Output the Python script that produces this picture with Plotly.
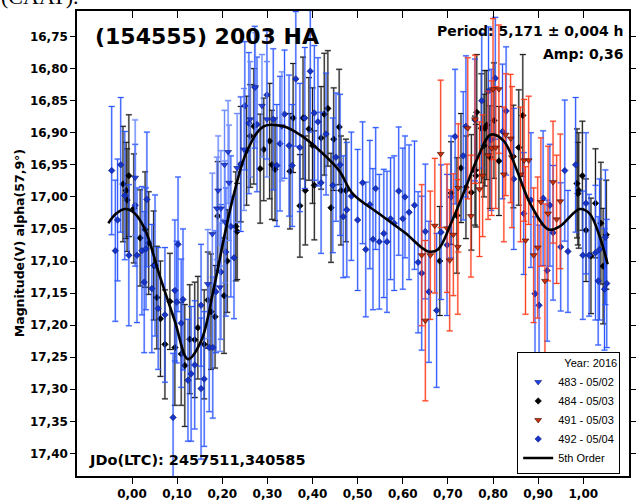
import plotly.graph_objects as go

# ---------------- data (phase, magnitude, error) ----------------
obs_483 = [
    (0.007, 16.970, 0.090), (0.168, 17.136, 0.085), (0.178, 17.058, 0.095), (0.188, 17.018, 0.080),
    (0.191, 16.990, 0.085), (0.195, 17.141, 0.100), (0.197, 17.018, 0.090), (0.205, 16.950, 0.085),
    (0.206, 17.039, 0.095), (0.213, 16.930, 0.080), (0.215, 16.978, 0.090), (0.233, 16.955, 0.085),
    (0.248, 16.926, 0.095), (0.262, 16.879, 0.090), (0.273, 16.829, 0.085), (0.288, 16.858, 0.080),
    (0.299, 16.879, 0.090), (0.332, 16.890, 0.085),
]

obs_484 = [
    (-0.020, 16.980, 0.090), (-0.013, 16.990, 0.075), (-0.007, 16.967, 0.095), (-0.011, 17.005, 0.080),
    (0.004, 17.018, 0.085), (0.018, 17.064, 0.075), (0.029, 17.051, 0.090), (0.037, 17.072, 0.080),
    (0.048, 17.107, 0.085), (0.055, 17.157, 0.080), (0.063, 17.190, 0.090), (0.073, 17.230, 0.085),
    (0.084, 17.163, 0.075), (0.095, 17.235, 0.090), (0.109, 17.245, 0.080), (0.117, 17.263, 0.095),
    (0.128, 17.222, 0.085), (0.139, 17.223, 0.090), (0.146, 17.204, 0.080), (0.160, 17.230, 0.085),
    (0.168, 17.161, 0.075), (0.175, 17.179, 0.090), (0.184, 17.187, 0.080), (0.190, 17.030, 0.085),
    (0.204, 17.154, 0.090), (0.211, 17.100, 0.080), (0.230, 17.046, 0.085), (0.233, 17.054, 0.075),
    (0.241, 16.949, 0.090), (0.254, 16.928, 0.085), (0.262, 16.905, 0.080), (0.270, 16.890, 0.090),
    (0.284, 16.956, 0.085), (0.292, 16.926, 0.080), (0.305, 16.913, 0.090), (0.310, 16.950, 0.085),
    (0.317, 16.957, 0.080), (0.350, 16.960, 0.090), (0.357, 16.877, 0.085), (0.372, 17.014, 0.080),
    (0.379, 16.877, 0.095), (0.384, 16.990, 0.085), (0.392, 16.894, 0.080), (0.400, 16.920, 0.090),
    (0.404, 16.982, 0.085), (0.419, 16.908, 0.080), (0.426, 16.871, 0.095), (0.434, 16.862, 0.090),
    (0.441, 17.017, 0.085), (0.447, 16.910, 0.080), (0.459, 16.891, 0.090), (0.463, 16.990, 0.085),
    (0.474, 16.990, 0.080), (0.682, 17.100, 0.085), (0.707, 16.994, 0.080), (0.720, 17.029, 0.090),
    (0.729, 16.955, 0.085), (0.740, 16.985, 0.080), (0.752, 16.993, 0.090), (0.760, 16.959, 0.085),
    (0.762, 16.967, 0.080), (0.764, 16.868, 0.090), (0.774, 16.893, 0.085), (0.780, 16.920, 0.080),
    (0.782, 16.893, 0.090), (0.786, 16.888, 0.085), (0.793, 16.938, 0.080), (0.802, 16.881, 0.090),
    (0.813, 16.944, 0.085), (0.845, 16.937, 0.080), (0.857, 16.923, 0.090), (0.866, 16.873, 0.095),
    (0.986, 16.979, 0.085), (0.988, 16.995, 0.080), (0.990, 16.990, 0.090), (0.998, 16.967, 0.085),
    (1.006, 17.052, 0.080), (1.017, 17.092, 0.090), (1.027, 17.010, 0.085), (1.039, 17.041, 0.095),
    (1.044, 17.108, 0.090), (1.051, 17.059, 0.085),
]

obs_491 = [
    (0.642, 17.091, 0.110), (0.650, 17.193, 0.125), (0.661, 17.091, 0.100), (0.671, 17.045, 0.105),
    (0.684, 16.933, 0.115), (0.698, 17.049, 0.100), (0.704, 17.099, 0.110), (0.712, 17.059, 0.095),
    (0.722, 17.078, 0.105), (0.723, 16.986, 0.100), (0.744, 16.893, 0.110), (0.751, 17.030, 0.095),
    (0.760, 16.879, 0.100), (0.770, 16.988, 0.105), (0.777, 16.967, 0.095), (0.789, 16.935, 0.100),
    (0.797, 16.924, 0.105), (0.800, 16.832, 0.110), (0.806, 16.923, 0.095), (0.813, 16.832, 0.100),
    (0.824, 16.965, 0.105), (0.828, 16.903, 0.095), (0.839, 16.909, 0.100), (0.842, 16.938, 0.110),
    (0.861, 16.965, 0.105), (0.869, 16.943, 0.095), (0.872, 17.068, 0.115), (0.879, 16.943, 0.100),
    (0.890, 17.091, 0.105), (0.899, 17.079, 0.110), (0.906, 17.008, 0.100), (0.915, 17.131, 0.120),
    (0.922, 17.026, 0.105), (0.933, 16.977, 0.095), (0.941, 17.035, 0.100), (0.949, 17.007, 0.105),
]

obs_492 = [
    (-0.045, 16.959, 0.100), (-0.037, 17.084, 0.110), (-0.032, 17.036, 0.095), (-0.025, 16.950, 0.105),
    (-0.016, 16.998, 0.100), (-0.007, 17.091, 0.110), (0.007, 17.013, 0.095), (0.011, 17.091, 0.105),
    (0.022, 17.084, 0.100), (0.027, 17.133, 0.110), (0.031, 17.081, 0.095), (0.033, 17.004, 0.105),
    (0.044, 17.143, 0.100), (0.051, 17.107, 0.110), (0.058, 17.174, 0.095), (0.073, 17.184, 0.105),
    (0.091, 17.344, 0.100), (0.095, 17.146, 0.110), (0.099, 17.164, 0.095), (0.102, 17.074, 0.105),
    (0.109, 17.197, 0.100), (0.113, 17.160, 0.110), (0.124, 17.286, 0.095), (0.131, 17.276, 0.105),
    (0.139, 17.262, 0.100), (0.153, 17.299, 0.110), (0.153, 17.169, 0.095), (0.160, 17.284, 0.105),
    (0.171, 17.235, 0.100), (0.179, 17.235, 0.110), (0.186, 17.148, 0.095), (0.197, 17.117, 0.105),
    (0.208, 17.086, 0.100), (0.219, 17.046, 0.110), (0.226, 17.095, 0.095), (0.241, 16.949, 0.105),
    (0.250, 16.858, 0.100), (0.259, 16.885, 0.110), (0.272, 16.829, 0.095), (0.277, 16.887, 0.105),
    (0.299, 16.841, 0.100), (0.313, 16.879, 0.110), (0.321, 16.951, 0.095), (0.328, 16.917, 0.105),
    (0.338, 16.871, 0.100), (0.348, 16.920, 0.110), (0.355, 16.951, 0.095), (0.363, 16.816, 0.105),
    (0.372, 16.923, 0.100), (0.383, 16.877, 0.110), (0.395, 16.804, 0.095), (0.404, 16.869, 0.105),
    (0.412, 16.883, 0.100), (0.419, 16.978, 0.110), (0.430, 16.902, 0.095), (0.445, 16.982, 0.105),
    (0.452, 16.938, 0.100), (0.461, 16.950, 0.110), (0.468, 17.031, 0.095), (0.476, 17.020, 0.105),
    (0.486, 16.999, 0.100), (0.500, 17.036, 0.110), (0.511, 16.978, 0.095), (0.518, 17.082, 0.105),
    (0.527, 17.012, 0.100), (0.534, 17.066, 0.110), (0.540, 16.987, 0.095), (0.548, 17.070, 0.105),
    (0.558, 17.057, 0.100), (0.565, 17.070, 0.110), (0.573, 17.034, 0.095), (0.581, 17.041, 0.105),
    (0.591, 16.991, 0.100), (0.600, 17.034, 0.110), (0.605, 17.000, 0.095), (0.614, 17.024, 0.105),
    (0.626, 17.013, 0.100), (0.634, 17.102, 0.110), (0.642, 17.119, 0.120), (0.650, 17.054, 0.105),
    (0.658, 17.148, 0.110), (0.675, 17.177, 0.120), (0.685, 17.055, 0.105), (0.698, 17.075, 0.110),
    (0.707, 17.000, 0.095), (0.716, 16.906, 0.105), (0.734, 16.936, 0.100), (0.740, 16.890, 0.110),
    (0.760, 16.880, 0.095), (0.775, 16.850, 0.105), (0.790, 16.835, 0.100), (0.796, 16.911, 0.110),
    (0.805, 16.815, 0.095), (0.821, 16.898, 0.105), (0.829, 16.866, 0.100), (0.846, 16.972, 0.110),
    (0.868, 17.026, 0.095), (0.884, 17.005, 0.105), (0.893, 17.151, 0.120), (0.902, 17.169, 0.125),
    (0.911, 17.002, 0.105), (0.920, 17.115, 0.110), (0.926, 17.013, 0.095), (0.933, 17.056, 0.105),
    (0.950, 17.078, 0.100), (0.959, 16.959, 0.110), (0.966, 17.085, 0.095), (0.983, 16.950, 0.105),
    (0.999, 17.091, 0.100), (1.006, 17.010, 0.110), (1.013, 17.091, 0.095), (1.027, 17.087, 0.105),
    (1.033, 17.131, 0.100), (1.036, 17.082, 0.110), (1.047, 17.144, 0.095), (1.049, 17.063, 0.105),
    (1.052, 17.135, 0.100),
]

fit_phase = [-0.0525, -0.035, -0.015, 0.005, 0.029, 0.060, 0.095, 0.124, 0.153, 0.182, 0.205,
             0.226, 0.255, 0.292, 0.335, 0.372, 0.416, 0.459, 0.489, 0.547, 0.605, 0.656, 0.678,
             0.707, 0.737, 0.766, 0.795, 0.824, 0.853, 0.882, 0.923, 0.948, 0.992, 1.014, 1.036, 1.054]
fit_mag = [17.041, 17.026, 17.019, 17.025, 17.051, 17.120, 17.194, 17.253, 17.225, 17.140, 17.060,
           16.995, 16.928, 16.890, 16.890, 16.903, 16.928, 16.959, 16.995, 17.026, 17.056, 17.085, 17.082,
           17.041, 16.990, 16.939, 16.903, 16.913, 16.959, 17.010, 17.051, 17.046, 17.019, 17.026, 17.061, 17.105]

x_ticks = [0.0, 0.1, 0.2, 0.3, 0.4, 0.5, 0.6, 0.7, 0.8, 0.9, 1.0]
x_ticktext = ["0,00", "0,10", "0,20", "0,30", "0,40", "0,50", "0,60", "0,70", "0,80", "0,90", "1,00"]
y_ticks = [16.75, 16.80, 16.85, 16.90, 16.95, 17.00, 17.05, 17.10, 17.15, 17.20, 17.25, 17.30, 17.35, 17.40]
y_ticktext = ["16,75", "16,80", "16,85", "16,90", "16,95", "17,00", "17,05", "17,10",
              "17,15", "17,20", "17,25", "17,30", "17,35", "17,40"]

# ---------------- styles ----------------
series = [
    # name, data, symbol, size, fill, outline, core err color, halo err color, rank
    ("484 - 05/03", obs_484, "diamond", 5, "#000000", "#000000", "#1a1a1a", "rgba(140,140,140,0.5)", 2),
    ("492 - 05/04", obs_492, "diamond", 5, "#1634c8", "#0b1b7a", "#2a55ff", "rgba(140,165,255,0.5)", 4),
    ("491 - 05/03", obs_491, "triangle-down", 6, "#c8300c", "#3a0800", "#ff3a1a", "rgba(255,160,140,0.55)", 3),
    ("483 - 05/02", obs_483, "triangle-down", 6, "#1f3fe0", "#0b1b7a", "#6a88ff", "rgba(160,180,255,0.55)", 1),
]

FONT = "DejaVu Sans"
fig = go.Figure()

# halos of error bars
for name, obs, sym, size, fill, outl, core, halo, rank in series:
    xs = [o[0] for o in obs]
    ys = [o[1] for o in obs]
    es = [o[2] for o in obs]
    fig.add_trace(go.Scatter(
        x=xs, y=ys, mode="markers", showlegend=False, hoverinfo="skip",
        marker=dict(size=1, opacity=0),
        error_y=dict(type="data", array=es, visible=True, color=halo, thickness=2.2, width=3),
    ))

# cores + markers
for name, obs, sym, size, fill, outl, core, halo, rank in series:
    xs = [o[0] for o in obs]
    ys = [o[1] for o in obs]
    es = [o[2] for o in obs]
    fig.add_trace(go.Scatter(
        x=xs, y=ys, mode="markers", name=name, legendrank=rank,
        marker=dict(symbol=sym, size=size, color=fill, line=dict(color=outl, width=0.6)),
        error_y=dict(type="data", array=es, visible=True, color=core, thickness=1, width=3),
    ))

fig.add_trace(go.Scatter(
    x=fit_phase, y=fit_mag, mode="lines", name="5th Order", legendrank=5,
    line=dict(color="black", width=2.6, shape="spline", smoothing=1.0),
))

# dummy trace for the top axis (inside ticks)
fig.add_trace(go.Scatter(x=[], y=[], xaxis="x2", yaxis="y", showlegend=False, hoverinfo="skip"))

X_RANGE = [-0.1219, 1.1013]
Y_RANGE = [17.4353, 16.7101]

fig.update_layout(
    width=639, height=504,
    margin=dict(l=77, r=3, t=11, b=20),
    paper_bgcolor="white", plot_bgcolor="white",
    showlegend=True,
    xaxis=dict(
        range=X_RANGE, tickmode="array", tickvals=x_ticks, ticktext=x_ticktext,
        showgrid=False, zeroline=False, showline=True, linecolor="black", linewidth=1.5,
        mirror=True, ticks="outside", ticklen=6, tickcolor="black", tickwidth=1,
        tickfont=dict(family=FONT, size=12, color="black", weight="bold"),
    ),
    xaxis2=dict(
        range=X_RANGE, overlaying="x", side="top", matches="x", tickmode="array", tickvals=x_ticks,
        showticklabels=False, showgrid=False, zeroline=False, showline=False,
        ticks="inside", ticklen=7, tickcolor="black", tickwidth=1,
    ),
    yaxis=dict(
        range=Y_RANGE, tickmode="array", tickvals=y_ticks, ticktext=y_ticktext,
        showgrid=False, zeroline=False, showline=True, linecolor="black", linewidth=1.5,
        mirror="ticks", ticks="outside", ticklen=5, tickcolor="black", tickwidth=1,
        tickfont=dict(family=FONT, size=12, color="black", weight="bold"),
    ),
    legend=dict(
        x=0.984, y=0.004, xanchor="right", yanchor="bottom",
        bgcolor="white", bordercolor="black", borderwidth=1,
        font=dict(family="Arial", size=11, color="black"),
        title=dict(text="Year: 2016", side="top right", font=dict(family="Arial", size=11, color="black")),
        itemwidth=30, tracegroupgap=0,
    ),
    annotations=[
        dict(text="(154555) 2003 HA", xref="paper", yref="paper", x=0.0286, y=0.945,
             xanchor="left", yanchor="middle", showarrow=False,
             font=dict(family=FONT, size=22, color="black", weight="bold")),
        dict(text="Period: 5,171 ± 0,004 h", xref="paper", yref="paper", x=0.993, y=0.958,
             xanchor="right", yanchor="middle", showarrow=False,
             font=dict(family=FONT, size=14, color="black", weight="bold")),
        dict(text="Amp: 0,36", xref="paper", yref="paper", x=0.993, y=0.907,
             xanchor="right", yanchor="middle", showarrow=False,
             font=dict(family=FONT, size=14, color="black", weight="bold")),
        dict(text="JDo(LTC): 2457511,340585", xref="paper", yref="paper", x=0.018, y=0.034,
             xanchor="left", yanchor="middle", showarrow=False,
             font=dict(family=FONT, size=14.5, color="black", weight="bold")),
        dict(text="Magnitude(V) alpha(57,9°)", xref="paper", yref="paper", x=-0.1038, y=0.50,
             xanchor="center", yanchor="middle", textangle=-90, showarrow=False,
             font=dict(family=FONT, size=12.5, color="black", weight="bold")),
        dict(text="(CAAT).", xref="paper", yref="paper", x=-0.142, y=1.031,
             xanchor="left", yanchor="middle", showarrow=False,
             font=dict(family="Liberation Serif", size=22, color="black")),
    ],
)

fig.write_html("out.html")
